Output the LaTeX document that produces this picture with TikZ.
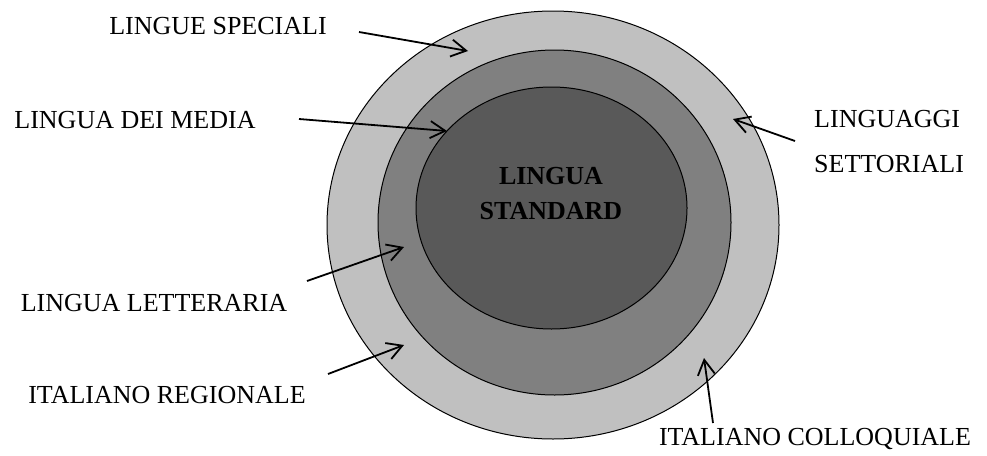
\documentclass[tikz,border=0pt]{standalone}
\usepackage{fontspec}
\setmainfont{Liberation Serif}
\usetikzlibrary{shapes.geometric,arrows.meta}
\definecolor{ringlight}{RGB}{192,192,192}
\definecolor{ringmid}{RGB}{128,128,128}
\definecolor{ringdark}{RGB}{89,89,89}

\begin{document}
\begin{tikzpicture}[x=1pt,y=-1pt]

      \useasboundingbox (0,0) rectangle (987,455);

      \begin{scope}[every node/.style={ellipse,draw,line width=1pt,inner sep=0pt}]
        \node[fill=ringlight,minimum width=452,minimum height=428] (outer) at (553,225) {};
        \node[fill=ringmid,minimum width=353,minimum height=345] (middle) at (554.5,222.5) {};
        \node[fill=ringdark,minimum width=271,minimum height=242] (inner) at (551.5,208) {};
      \end{scope}

      \begin{scope}[every node/.style={inner sep=0pt,font=\fontsize{26}{35}\selectfont}]
        \node[align=center,font=\bfseries\fontsize{26}{35}\selectfont] (standard) at (551,193.5) {LINGUA\\STANDARD};
        \node[anchor=base] (speciali) at (218,34) {LINGUE SPECIALI};
        \node[anchor=base] (media) at (135,128) {LINGUA DEI MEDIA};
        \node[anchor=base] (letteraria) at (154,311) {LINGUA LETTERARIA};
        \node[anchor=base] (regionale) at (167,403) {ITALIANO REGIONALE};
        \node[anchor=base] (colloquiale) at (815,445) {ITALIANO COLLOQUIALE};
        \node[anchor=base west,align=left,font=\fontsize{26}{45}\selectfont] (settoriali) at (814,172) {LINGUAGGI\\SETTORIALI};
      \end{scope}

      \coordinate (speciali-a) at (359,32);
      \coordinate (speciali-b) at (468,51);
      \coordinate (media-a) at (299,119);
      \coordinate (media-b) at (447,131);
      \coordinate (settoriali-a) at (795,141);
      \coordinate (settoriali-b) at (733,119);
      \coordinate (letteraria-a) at (307,281);
      \coordinate (letteraria-b) at (404,247);
      \coordinate (regionale-a) at (328,374);
      \coordinate (regionale-b) at (404,345);
      \coordinate (colloquiale-a) at (713,423);
      \coordinate (colloquiale-b) at (704,358);

      \begin{scope}[every edge/.style={draw,line width=1.8pt,-{Straight Barb[length=15pt,width=17pt]}}]
        \path (speciali-a) edge (speciali-b);
        \path (media-a) edge (media-b);
        \path (settoriali-a) edge (settoriali-b);
        \path (letteraria-a) edge (letteraria-b);
        \path (regionale-a) edge (regionale-b);
        \path (colloquiale-a) edge (colloquiale-b);
      \end{scope}

    \end{tikzpicture}
\end{document}
